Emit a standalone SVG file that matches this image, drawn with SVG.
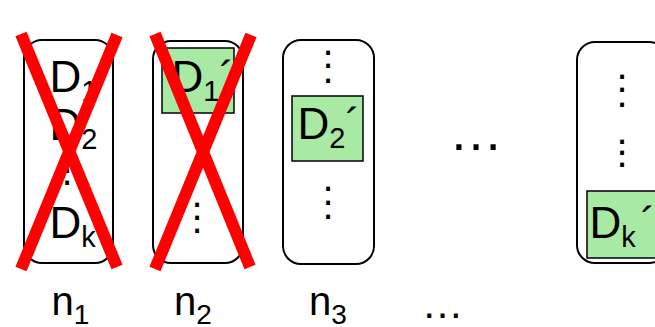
<svg xmlns="http://www.w3.org/2000/svg" width="655" height="327" viewBox="0 0 655 327">
<style>
.node{fill:#ffffff;stroke:#000000;stroke-width:2}
.hl{fill:#a8eaa4;stroke:#000000;stroke-width:1.5}
.t{font-family:"Liberation Sans",Arial,sans-serif;font-size:44px;fill:#000000}
.lbl{font-family:"Liberation Sans",Arial,sans-serif;font-size:40px;fill:#000000}
.dot{font-family:"Liberation Sans",Arial,sans-serif;font-size:40px;fill:#000000;text-anchor:middle}
.x{stroke:#ff0000;stroke-width:12;stroke-linecap:butt;fill:none}
</style>
<rect width="655" height="327" fill="#ffffff"/>
<g id="node1">
<rect class="node" x="24" y="40" width="89" height="223" rx="18"/>
<text class="t" x="49.5" y="92">D<tspan font-size="29" dy="9">1</tspan></text>
<text class="t" x="49.5" y="140">D<tspan font-size="29" dy="9">2</tspan></text>
<text class="dot"><tspan x="67" y="161">.</tspan><tspan x="67" y="173">.</tspan><tspan x="67" y="185">.</tspan></text>
<text class="t" x="49.5" y="238">D<tspan font-size="29" dy="9">k</tspan></text>
</g>
<g id="node2">
<rect class="node" x="153" y="41" width="90" height="222" rx="18"/>
<rect class="hl" x="162" y="48" width="72" height="65"/>
<text class="t" x="171.5" y="92">D<tspan font-size="29" dy="9">1</tspan><tspan dy="-9">´</tspan></text>
<text class="dot"><tspan x="197" y="207">.</tspan><tspan x="197" y="220">.</tspan><tspan x="197" y="233">.</tspan></text>
</g>
<g id="node3">
<rect class="node" x="283" y="40" width="91" height="224" rx="18"/>
<text class="dot"><tspan x="328" y="55">.</tspan><tspan x="328" y="68">.</tspan><tspan x="328" y="83">.</tspan></text>
<rect class="hl" x="292" y="96" width="71" height="65"/>
<text class="t" x="297.5" y="139">D<tspan font-size="29" dy="9">2</tspan><tspan dy="-9">´</tspan></text>
<text class="dot"><tspan x="328" y="191">.</tspan><tspan x="328" y="205">.</tspan><tspan x="328" y="219">.</tspan></text>
</g>
<g id="ellipsis-mid">
<text class="lbl" x="476" y="150" text-anchor="middle" style="font-size:54px">…</text>
</g>
<g id="nodek">
<rect class="node" x="577" y="42" width="90" height="221" rx="18"/>
<text class="dot"><tspan x="622" y="79">.</tspan><tspan x="622" y="92">.</tspan><tspan x="622" y="107">.</tspan><tspan x="622" y="144">.</tspan><tspan x="622" y="155">.</tspan><tspan x="622" y="167">.</tspan></text>
<rect class="hl" x="587" y="191" width="80" height="67"/>
<text class="t" x="589.5" y="238">D<tspan font-size="29" dy="9">k</tspan><tspan dx="5" dy="-9">´</tspan></text>
</g>
<g id="crosses">
<line class="x" x1="21" y1="34" x2="117" y2="267"/>
<line class="x" x1="117" y1="35" x2="21" y2="269"/>
<line class="x" x1="155" y1="34" x2="250" y2="267"/>
<line class="x" x1="251" y1="35" x2="155" y2="269"/>
</g>
<g id="labels">
<text class="lbl" x="51.5" y="315">n<tspan font-size="28" dy="9">1</tspan></text>
<text class="lbl" x="174" y="315">n<tspan font-size="28" dy="9">2</tspan></text>
<text class="lbl" x="309" y="315">n<tspan font-size="28" dy="9">3</tspan></text>
<text class="lbl" x="442.5" y="318" text-anchor="middle" style="font-size:42px">…</text>
</g>
</svg>
